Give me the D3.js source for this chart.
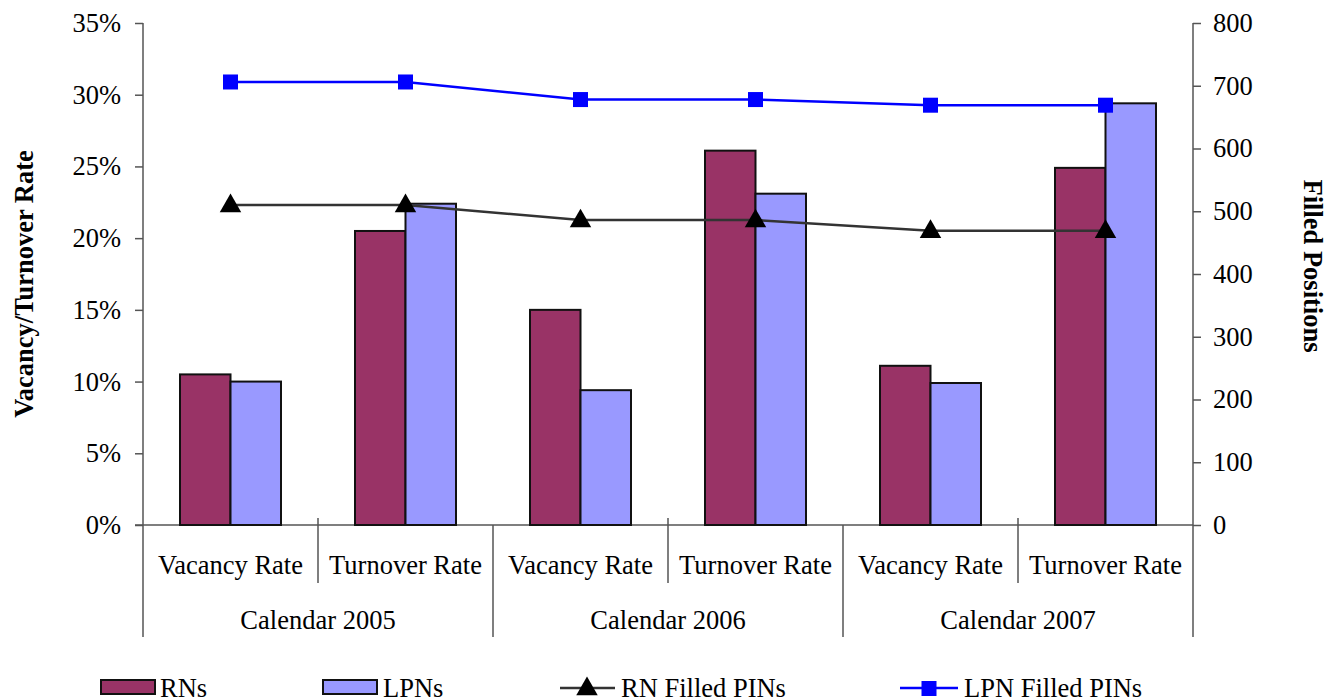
<!DOCTYPE html>
<html>
<head>
<meta charset="utf-8">
<script src="https://cdn.jsdelivr.net/npm/d3@7"></script>
<style>
  body { margin: 0; background: #fff; }
  svg { font-family: "Liberation Serif", "Times New Roman", serif; }
  .axis text { font-size: 26.5px; fill: #000; font-family: "Liberation Serif", "Times New Roman", serif; }
  .axis line, .axis path { stroke: #555; stroke-width: 1.5; }
</style>
</head>
<body>
<div id="chart"></div>
<script>
// data
var years = ["Calendar 2005", "Calendar 2006", "Calendar 2007"]
var measures = ["Vacancy Rate", "Turnover Rate"]
var rnRates = [10.5, 20.5, 15.0, 26.1, 11.1, 24.9]
var lpnRates = [10.0, 22.4, 9.4, 23.1, 9.9, 29.4]
var rnFilled = [510, 510, 486, 486, 469, 469]
var lpnFilled = [706, 706, 678, 678, 669, 669]
var leftTicks = [0, 5, 10, 15, 20, 25, 30, 35]
var rightTicks = [0, 100, 200, 300, 400, 500, 600, 700, 800]

var margin = { top: 23, left: 143, right: 135, bottom: 175 },
    width = 1328 - margin.left - margin.right,
    height = 700 - margin.top - margin.bottom

var fs = "26.5px"

var svg = d3.select("#chart")
    .append("svg")
    .attr("width", 1328)
    .attr("height", 700)
    .append("g")
    .attr("transform", "translate(" + margin.left + "," + margin.top + ")")

// one slot per year/measure pair
var cats = []
years.forEach(function(y) {
  measures.forEach(function(m) {
    cats.push({ year: y, measure: m, key: y + "|" + m })
  })
})
cats.forEach(function(c, i) {
  c.rn = rnRates[i]
  c.lpn = lpnRates[i]
  c.rnF = rnFilled[i]
  c.lpnF = lpnFilled[i]
})

var xPositionScale = d3.scaleBand()
    .domain(cats.map(function(d) { return d.key }))
    .range([0, width])

var yearScale = d3.scaleBand()
    .domain(years)
    .range([0, width])

var yLeft = d3.scaleLinear().domain([0, 35]).range([height, 0])
var yRight = d3.scaleLinear().domain([0, 800]).range([height, 0])

var barW = 50.5

// left axis
var yAxisLeft = d3.axisLeft(yLeft)
    .tickValues(leftTicks)
    .tickSize(8)
    .tickPadding(14)
    .tickFormat(function(d) { return d + "%" })
svg.append("g")
    .attr("class", "axis y-left")
    .call(yAxisLeft)
svg.select(".y-left .domain").remove()
svg.append("line")
    .attr("x1", 0).attr("x2", 0)
    .attr("y1", 0).attr("y2", height + 112)
    .attr("stroke", "#555").attr("stroke-width", 1.5)

// right axis
var yAxisRight = d3.axisRight(yRight)
    .tickValues(rightTicks)
    .tickSize(8)
    .tickPadding(12)
svg.append("g")
    .attr("class", "axis y-right")
    .attr("transform", "translate(" + width + ",0)")
    .call(yAxisRight)
svg.select(".y-right .domain").remove()
svg.append("line")
    .attr("x1", width).attr("x2", width)
    .attr("y1", 0).attr("y2", height + 112)
    .attr("stroke", "#555").attr("stroke-width", 1.5)

// bottom axis line
svg.append("line")
    .attr("x1", -8).attr("x2", width)
    .attr("y1", height).attr("y2", height)
    .attr("stroke", "#555").attr("stroke-width", 1.5)

// separators between measures inside a year
svg.selectAll(".cat-sep")
    .data(cats.filter(function(d) { return d.measure == measures[1] }))
    .enter().append("line")
    .attr("class", "cat-sep")
    .attr("x1", function(d) { return xPositionScale(d.key) })
    .attr("x2", function(d) { return xPositionScale(d.key) })
    .attr("y1", height - 7)
    .attr("y2", height + 58)
    .attr("stroke", "#555").attr("stroke-width", 1.5)

// separators between years
svg.selectAll(".year-sep")
    .data(years.slice(1))
    .enter().append("line")
    .attr("class", "year-sep")
    .attr("x1", function(d) { return yearScale(d) })
    .attr("x2", function(d) { return yearScale(d) })
    .attr("y1", height)
    .attr("y2", height + 112)
    .attr("stroke", "#555").attr("stroke-width", 1.5)

svg.selectAll(".cat-label")
    .data(cats)
    .enter().append("text")
    .attr("class", "cat-label")
    .text(function(d) { return d.measure })
    .attr("x", function(d) { return xPositionScale(d.key) + xPositionScale.bandwidth() / 2 })
    .attr("y", height + 49)
    .attr("text-anchor", "middle")
    .style("font-size", fs)

svg.selectAll(".year-label")
    .data(years)
    .enter().append("text")
    .attr("class", "year-label")
    .text(function(d) { return d })
    .attr("x", function(d) { return yearScale(d) + yearScale.bandwidth() / 2 })
    .attr("y", height + 104)
    .attr("text-anchor", "middle")
    .style("font-size", fs)

// bars
svg.selectAll(".rn-bar")
    .data(cats)
    .enter().append("rect")
    .attr("class", "rn-bar")
    .attr("x", function(d) { return xPositionScale(d.key) + xPositionScale.bandwidth() / 2 - barW })
    .attr("y", function(d) { return yLeft(d.rn) })
    .attr("width", barW)
    .attr("height", function(d) { return height - yLeft(d.rn) })
    .attr("fill", "#993366")
    .attr("stroke", "#111")
    .attr("stroke-width", 2)

svg.selectAll(".lpn-bar")
    .data(cats)
    .enter().append("rect")
    .attr("class", "lpn-bar")
    .attr("x", function(d) { return xPositionScale(d.key) + xPositionScale.bandwidth() / 2 })
    .attr("y", function(d) { return yLeft(d.lpn) })
    .attr("width", barW)
    .attr("height", function(d) { return height - yLeft(d.lpn) })
    .attr("fill", "#9999FF")
    .attr("stroke", "#111")
    .attr("stroke-width", 2)

// lines
var cx = function(d) { return xPositionScale(d.key) + xPositionScale.bandwidth() / 2 }

var rnLine = d3.line().x(cx).y(function(d) { return yRight(d.rnF) })
var lpnLine = d3.line().x(cx).y(function(d) { return yRight(d.lpnF) })

svg.append("path")
    .datum(cats)
    .attr("d", rnLine)
    .attr("fill", "none")
    .attr("stroke", "#333")
    .attr("stroke-width", 2.5)

svg.append("path")
    .datum(cats)
    .attr("d", lpnLine)
    .attr("fill", "none")
    .attr("stroke", "#0000FF")
    .attr("stroke-width", 2.5)

var tri = d3.symbol().type(d3.symbolTriangle).size(200)

svg.selectAll(".rn-pt")
    .data(cats)
    .enter().append("path")
    .attr("class", "rn-pt")
    .attr("d", tri)
    .attr("transform", function(d) { return "translate(" + cx(d) + "," + (yRight(d.rnF) + 1) + ")" })
    .attr("fill", "#000")

svg.selectAll(".lpn-pt")
    .data(cats)
    .enter().append("rect")
    .attr("class", "lpn-pt")
    .attr("x", function(d) { return cx(d) - 7.5 })
    .attr("y", function(d) { return yRight(d.lpnF) - 7.5 })
    .attr("width", 15)
    .attr("height", 15)
    .attr("fill", "#0000FF")

// axis titles
svg.append("text")
    .text("Vacancy/Turnover Rate")
    .attr("transform", "translate(" + (-110) + "," + (height / 2 + 10) + ") rotate(-90)")
    .attr("text-anchor", "middle")
    .style("font-size", fs)
    .style("font-weight", "bold")

svg.append("text")
    .text("Filled Positions")
    .attr("transform", "translate(" + (width + 111) + "," + (height / 2 - 8) + ") rotate(90)")
    .attr("text-anchor", "middle")
    .style("font-size", fs)
    .style("font-weight", "bold")

// legend
var legend = svg.append("g")
    .attr("transform", "translate(" + (-margin.left) + "," + (-margin.top) + ")")

legend.append("rect").attr("x", 101).attr("y", 680).attr("width", 54).attr("height", 14)
    .attr("fill", "#993366").attr("stroke", "#111").attr("stroke-width", 2)
legend.append("text").text("RNs").attr("x", 160).attr("y", 697).style("font-size", fs)

legend.append("rect").attr("x", 323).attr("y", 680).attr("width", 54).attr("height", 14)
    .attr("fill", "#9999FF").attr("stroke", "#111").attr("stroke-width", 2)
legend.append("text").text("LPNs").attr("x", 383).attr("y", 697).style("font-size", fs)

legend.append("line").attr("x1", 560).attr("x2", 615).attr("y1", 688).attr("y2", 688)
    .attr("stroke", "#333").attr("stroke-width", 2.5)
legend.append("path").attr("d", tri).attr("transform", "translate(587,689)").attr("fill", "#000")
legend.append("text").text("RN Filled PINs").attr("x", 621).attr("y", 697).style("font-size", fs)

legend.append("line").attr("x1", 900).attr("x2", 958).attr("y1", 688).attr("y2", 688)
    .attr("stroke", "#0000FF").attr("stroke-width", 2.5)
legend.append("rect").attr("x", 921.5).attr("y", 681).attr("width", 15).attr("height", 15).attr("fill", "#0000FF")
legend.append("text").text("LPN Filled PINs").attr("x", 964).attr("y", 697).style("font-size", fs)
</script>
</body>
</html>
